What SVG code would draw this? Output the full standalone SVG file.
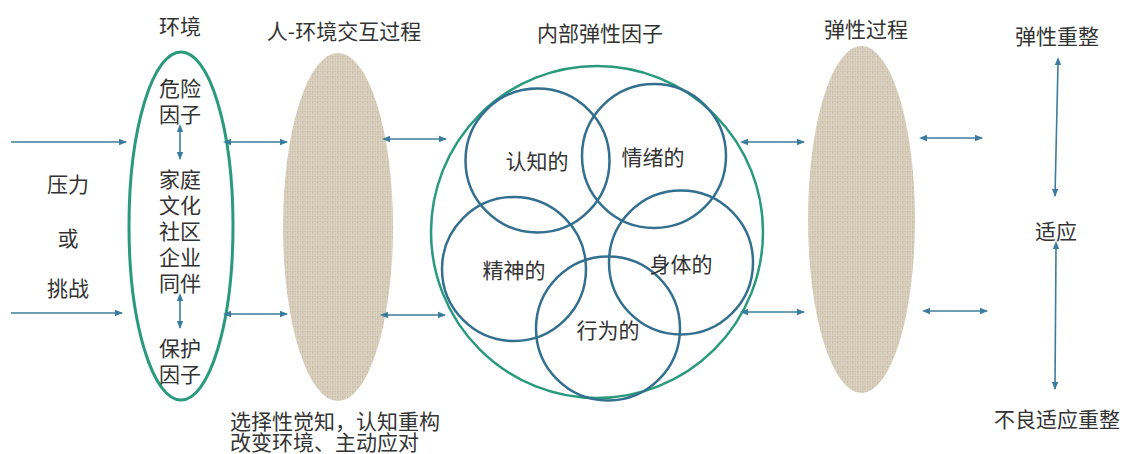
<svg xmlns="http://www.w3.org/2000/svg" width="1125" height="454" viewBox="0 0 1125 454">
<style>
text{font-family:"Noto Sans CJK SC","Noto Sans",sans-serif;font-size:21px;fill:#333;text-anchor:middle;dominant-baseline:central}
.green{fill:none;stroke:#2a9a7c;stroke-width:3}
.green2{fill:none;stroke:#2a9a7c;stroke-width:2.5}
.blue{fill:none;stroke:#336f8f;stroke-width:2.5}
.tex{fill:url(#linen)}
.arr{stroke:#3c7c9c;stroke-width:1.6;fill:none}
.one{marker-end:url(#ah)}
.two{marker-start:url(#ahs);marker-end:url(#ah)}
</style>
<defs>
<pattern id="linen" width="5" height="5" patternUnits="userSpaceOnUse">
<rect width="5" height="5" fill="#d7cdba"/>
<path d="M0 1.5H5M0 4H5" stroke="#c6baa4" stroke-width="0.6"/>
<path d="M1.5 0V5M4 0V5" stroke="#e2d9c9" stroke-width="0.6"/>
<rect x="2" y="2" width="0.8" height="0.8" fill="#bcb09a"/>
</pattern>
<marker id="ah" markerWidth="8" markerHeight="8" refX="7" refY="4" orient="auto" markerUnits="userSpaceOnUse">
<path d="M0 0.8L8 4L0 7.2Z" fill="#3c7c9c"/>
</marker>
<marker id="ahs" markerWidth="8" markerHeight="8" refX="1" refY="4" orient="auto-start-reverse" markerUnits="userSpaceOnUse">
<path d="M0 0.8L8 4L0 7.2Z" fill="#3c7c9c"/>
</marker>
</defs>

<g id="labels-left">
<text x="68" y="183">压力</text>
<text x="68" y="237">或</text>
<text x="68" y="287">挑战</text>
</g>

<g id="environment">
<text x="180" y="25">环境</text>
<ellipse class="green" cx="181" cy="226" rx="52" ry="174"/>
<text x="180" y="87">危险</text>
<text x="180" y="113">因子</text>
<text x="180" y="178">家庭</text>
<text x="180" y="204">文化</text>
<text x="180" y="230">社区</text>
<text x="180" y="256">企业</text>
<text x="180" y="282">同伴</text>
<text x="180" y="347">保护</text>
<text x="180" y="373">因子</text>
</g>

<g id="interaction">
<text x="344" y="30">人-环境交互过程</text>
<ellipse class="tex" cx="338" cy="227" rx="55" ry="174"/>
<text x="230" y="420" style="text-anchor:start">选择性觉知，认知重构</text>
<text x="230" y="441" style="text-anchor:start">改变环境、主动应对</text>
</g>

<g id="internal">
<text x="600" y="32">内部弹性因子</text>
<circle class="green2" cx="597" cy="232" r="166"/>
<circle class="blue" cx="537.5" cy="160.5" r="72"/>
<circle class="blue" cx="654" cy="156" r="72"/>
<circle class="blue" cx="514" cy="269" r="72"/>
<circle class="blue" cx="681" cy="262.5" r="72"/>
<circle class="blue" cx="608" cy="328.5" r="72"/>
<text x="537" y="160">认知的</text>
<text x="653" y="156">情绪的</text>
<text x="514" y="269">精神的</text>
<text x="681" y="263">身体的</text>
<text x="608" y="329">行为的</text>
</g>

<g id="process">
<text x="866" y="28">弹性过程</text>
<ellipse class="tex" cx="861.5" cy="219.5" rx="53.5" ry="173.5"/>
</g>

<g id="outcomes">
<text x="1057" y="35">弹性重整</text>
<text x="1056" y="230">适应</text>
<text x="1057" y="418">不良适应重整</text>
</g>

<g id="connectors">
<line class="arr one" x1="11" y1="142" x2="126" y2="142"/>
<line class="arr one" x1="11" y1="313" x2="122" y2="313"/>
<line class="arr two" x1="180" y1="131" x2="180" y2="159"/>
<line class="arr two" x1="180" y1="300" x2="180" y2="328"/>
<line class="arr two" x1="230" y1="142" x2="287" y2="142"/>
<line class="arr two" x1="230" y1="314" x2="287" y2="314"/>
<line class="arr two" x1="389" y1="139" x2="446" y2="139"/>
<line class="arr two" x1="387" y1="315" x2="445" y2="315"/>
<line class="arr two" x1="747" y1="142" x2="804" y2="142"/>
<line class="arr two" x1="747" y1="312" x2="804" y2="312"/>
<line class="arr two" x1="926" y1="138" x2="982" y2="138"/>
<line class="arr two" x1="929" y1="311" x2="987" y2="311"/>
<line class="arr two" x1="1058" y1="64" x2="1055" y2="196"/>
<line class="arr two" x1="1056" y1="248" x2="1055" y2="389"/>
</g>
</svg>
